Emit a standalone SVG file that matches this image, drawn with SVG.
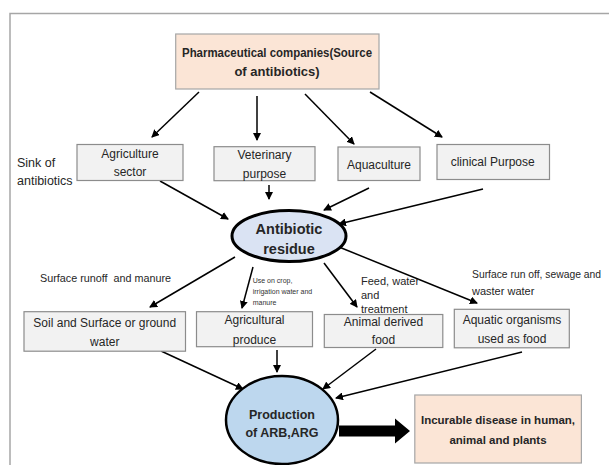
<svg xmlns="http://www.w3.org/2000/svg" width="609" height="465" viewBox="0 0 609 465">
<style>
text{font-family:"Liberation Sans",Arial,sans-serif;fill:#262626;text-anchor:middle}
.b{font-weight:bold}
.t12{font-size:12px}
.lab{font-size:11px;text-anchor:start}
.sm{font-size:7px;text-anchor:start;fill:#333}
.box{fill:#f2f2f2;stroke:#8c8c8c;stroke-width:1.2}
.pk{fill:#fbe5d6;stroke:#a6a6a6;stroke-width:1.2}
.ln{stroke:#000;stroke-width:1.5;fill:none;marker-end:url(#ah)}
</style>
<defs>
<marker id="ah" markerUnits="userSpaceOnUse" markerWidth="9" markerHeight="8" refX="7" refY="4" orient="auto">
<path d="M0,0 L8,4 L0,8 z" fill="#000"/>
</marker>
</defs>
<rect width="609" height="465" fill="#fff"/>
<path d="M10,465 V13.5 H609" fill="none" stroke="#a6a6a6" stroke-width="1.5"/>

<g id="connectors">
<line class="ln" x1="199" y1="92" x2="152" y2="137"/>
<line class="ln" x1="257" y1="96" x2="257" y2="140"/>
<line class="ln" x1="305" y1="94" x2="354" y2="144"/>
<line class="ln" x1="370" y1="92" x2="442" y2="137"/>
<line class="ln" x1="160" y1="181" x2="228" y2="219"/>
<line class="ln" x1="269" y1="185" x2="269" y2="199"/>
<line class="ln" x1="369" y1="188" x2="324" y2="210"/>
<line class="ln" x1="483" y1="189" x2="339" y2="224"/>
<line class="ln" x1="235" y1="257" x2="150" y2="307"/>
<line class="ln" x1="253" y1="267" x2="242" y2="308"/>
<line class="ln" x1="324" y1="263" x2="357" y2="307"/>
<line class="ln" x1="339" y1="247" x2="477" y2="303"/>
<line class="ln" x1="161" y1="351" x2="243" y2="389"/>
<line class="ln" x1="277" y1="350" x2="277" y2="372"/>
<line class="ln" x1="376" y1="349" x2="323" y2="389"/>
<line class="ln" x1="522" y1="352" x2="336" y2="398"/>
<polygon points="339,425.5 395,425.5 395,418.5 410,431 395,443.5 395,436.5 339,436.5" fill="#000"/>
</g>

<g id="pharma">
<rect class="pk" x="175.7" y="34" width="203.3" height="55"/>
<text class="b" font-size="13" x="277" y="56.5" textLength="190" lengthAdjust="spacingAndGlyphs">Pharmaceutical companies(Source</text>
<text class="b" font-size="13" x="277" y="76">of antibiotics)</text>
</g>

<g id="sink">
<text class="lab" x="17" y="166.5" style="font-size:12.5px">Sink of</text>
<text class="lab" x="17" y="185" style="font-size:12.5px">antibiotics</text>
</g>

<g id="agri">
<rect class="box" x="77" y="144.5" width="106" height="36"/>
<text class="t12" x="130" y="157.5">Agriculture</text>
<text class="t12" x="130" y="176">sector</text>
</g>
<g id="vet">
<rect class="box" x="214" y="146.7" width="101" height="34"/>
<text class="t12" x="264.5" y="159.2">Veterinary</text>
<text class="t12" x="264.5" y="177.5">purpose</text>
</g>
<g id="aqua">
<rect class="box" x="338" y="147" width="82" height="33.5"/>
<text class="t12" x="379" y="168.5">Aquaculture</text>
</g>
<g id="clin">
<rect class="box" x="437" y="144.5" width="112.5" height="35"/>
<text class="t12" x="492.7" y="166">clinical Purpose</text>
</g>

<g id="residue">
<ellipse cx="289" cy="236" rx="57" ry="25.5" fill="#dae3f3" stroke="#000" stroke-width="3"/>
<text class="b" font-size="14.5" x="289" y="234">Antibiotic</text>
<text class="b" font-size="14.5" x="289" y="254">residue</text>
</g>

<g id="labels">
<text class="lab" x="40" y="282" xml:space="preserve" textLength="131" lengthAdjust="spacingAndGlyphs">Surface runoff  and manure</text>
<text class="sm" x="252.7" y="283.2">Use on crop,</text>
<text class="sm" x="252.7" y="294.2">irrigation water and</text>
<text class="sm" x="252.7" y="304.8">manure</text>
<text class="lab" x="361" y="284.5">Feed, water</text>
<text class="lab" x="361" y="299">and</text>
<text class="lab" x="361" y="313">treatment</text>
<text class="lab" x="472" y="278" textLength="129" lengthAdjust="spacingAndGlyphs">Surface run off, sewage and</text>
<text class="lab" x="472" y="295">waster water</text>
</g>

<g id="soil">
<rect class="box" x="24" y="311.7" width="161.5" height="39.5"/>
<text class="t12" x="104.75" y="327">Soil and Surface or ground</text>
<text class="t12" x="104.75" y="346">water</text>
</g>
<g id="agprod">
<rect class="box" x="196.5" y="311.7" width="116" height="35"/>
<text class="t12" x="254.5" y="324.3">Agricultural</text>
<text class="t12" x="254.5" y="343.5">produce</text>
</g>
<g id="animal">
<rect class="box" x="324.3" y="314.5" width="118.5" height="33"/>
<text class="t12" x="383.5" y="326">Animal derived</text>
<text class="t12" x="383.5" y="343.5">food</text>
</g>
<g id="aquatic">
<rect class="box" x="454.3" y="309.3" width="115" height="38.5"/>
<text class="t12" x="512" y="323.6">Aquatic organisms</text>
<text class="t12" x="512" y="342.6">used as food</text>
</g>

<g id="arb">
<ellipse cx="282" cy="420" rx="56" ry="44" fill="#bdd7ee" stroke="#000" stroke-width="2.5"/>
<text class="b" font-size="12.5" x="282" y="418.5">Production</text>
<text class="b" font-size="12.5" x="282" y="437">of ARB,ARG</text>
</g>

<g id="disease">
<rect class="pk" x="414.8" y="395" width="166.6" height="68"/>
<text class="b" font-size="11.5" x="498" y="424">Incurable disease in human,</text>
<text class="b" font-size="11.5" x="498" y="443.5">animal and plants</text>
</g>
</svg>
